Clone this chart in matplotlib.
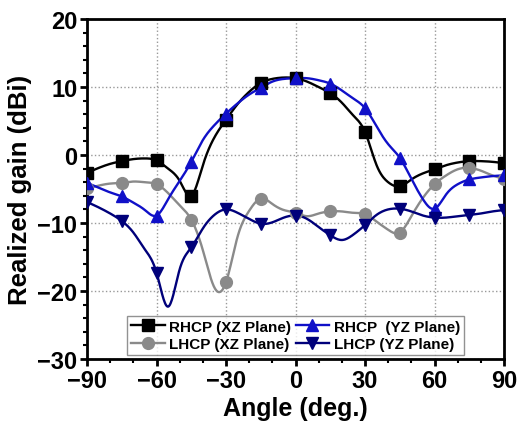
import numpy as np
import matplotlib.pyplot as plt
from matplotlib.ticker import MultipleLocator

# angles every 5 deg; markers sit on every 15 deg
angle = list(range(-90, 91, 5))
rhcp_xz = [-2.6, -1.9, -1.3, -0.9, -0.6, -0.5, -0.8, -2.0, -3.8, -6.0, -1.5, 2.6, 5.2,
           7.5, 9.3, 10.6, 11.2, 11.4, 11.3, 10.8, 10.0, 9.1, 7.7, 5.8, 3.4,
           -1.5, -4.0, -4.6, -3.6, -2.7, -2.1, -1.5, -1.1, -0.9, -0.9, -1.0, -1.2]
rhcp_yz = [-4.1, -4.8, -5.5, -6.1, -7.0, -8.1, -8.9, -6.5, -3.8, -1.0, 2.2, 4.4, 6.1,
           7.6, 8.9, 9.9, 10.8, 11.2, 11.3, 11.3, 11.0, 10.5, 9.5, 8.3, 6.9,
           4.2, 1.6, -0.4, -3.5, -6.5, -7.9, -5.8, -4.3, -3.6, -3.3, -3.1, -3.0]
lhcp_xz = [-4.9, -4.5, -4.2, -4.1, -3.9, -4.0, -4.3, -5.6, -7.4, -9.5, -14.0, -19.5, -18.7,
           -12.0, -8.2, -6.4, -7.2, -8.1, -8.5, -9.0, -8.6, -8.3, -8.3, -8.5, -8.7,
           -9.8, -11.0, -11.4, -9.0, -6.3, -4.3, -3.0, -2.1, -1.9, -2.3, -3.0, -3.5]
lhcp_yz = [-6.9, -7.7, -8.6, -9.7, -11.4, -13.9, -17.3, -22.3, -16.8, -13.6, -10.8, -8.8, -8.0,
           -8.5, -9.4, -10.1, -9.9, -9.2, -8.9, -9.4, -10.6, -11.8, -12.5, -11.7, -10.3,
           -8.8, -8.0, -7.9, -8.3, -8.9, -9.2, -9.2, -9.0, -8.8, -8.6, -8.3, -8.1]


def smooth(x, y, n=600):
    # natural cubic spline for drawing the line only
    x = np.asarray(x, float)
    y = np.asarray(y, float)
    k = len(x)
    h = np.diff(x)
    A = np.zeros((k, k))
    b = np.zeros(k)
    A[0, 0] = A[-1, -1] = 1
    for i in range(1, k - 1):
        A[i, i - 1] = h[i - 1]
        A[i, i] = 2 * (h[i - 1] + h[i])
        A[i, i + 1] = h[i]
        b[i] = 6 * ((y[i + 1] - y[i]) / h[i] - (y[i] - y[i - 1]) / h[i - 1])
    M = np.linalg.solve(A, b)
    xs = np.linspace(x[0], x[-1], n)
    j = np.clip(np.searchsorted(x, xs) - 1, 0, k - 2)
    t1 = x[j + 1] - xs
    t2 = xs - x[j]
    hj = h[j]
    ys = (M[j] * t1**3 + M[j + 1] * t2**3) / (6 * hj) \
        + (y[j] / hj - M[j] * hj / 6) * t1 + (y[j + 1] / hj - M[j + 1] * hj / 6) * t2
    return xs, ys


plt.rcParams['font.family'] = ['Liberation Sans', 'DejaVu Sans']
plt.rcParams['font.weight'] = 'bold'

fig = plt.figure(figsize=(5.18, 4.27), dpi=100)
ax = fig.add_axes([0.168, 0.157, 0.805, 0.796])

series = [
    (rhcp_xz, 'black', 's', 'RHCP (XZ Plane)'),
    (lhcp_xz, '#8a8a8a', 'o', 'LHCP (XZ Plane)'),
    (rhcp_yz, '#1010C8', '^', 'RHCP  (YZ Plane)'),
    (lhcp_yz, '#00007A', 'v', 'LHCP (YZ Plane)'),
]
handles = []
for vals, col, mk, lab in series:
    xs, ys = smooth(angle, vals)
    ax.plot(xs, ys, color=col, lw=1.7, zorder=3)
    ax.plot(angle[::3], vals[::3], ls='none', marker=mk, ms=8.5, color=col, zorder=4)
    handles.append(plt.Line2D([], [], color=col, lw=1.7, marker=mk, ms=8.5, label=lab))

ax.set_xlim(-90, 90)
ax.set_ylim(-30, 20)
ax.xaxis.set_major_locator(MultipleLocator(30))
ax.xaxis.set_minor_locator(MultipleLocator(10))
ax.yaxis.set_major_locator(MultipleLocator(10))
ax.yaxis.set_minor_locator(MultipleLocator(2))
ax.grid(True, which='major', ls=':', color='#999999', lw=1)
for s in ax.spines.values():
    s.set_linewidth(2)
ax.tick_params(which='major', direction='out', length=5, width=2, labelsize=17, pad=2)
ax.tick_params(which='minor', direction='out', length=3, width=1.5)

ax.set_xlabel('Angle (deg.)', fontsize=18, fontweight='bold', labelpad=3)
ax.set_ylabel('Realized gain (dBi)', fontsize=18.5, fontweight='bold', labelpad=4)

leg = ax.legend(handles=handles, ncol=2, loc='lower center', bbox_to_anchor=(0.5, -0.01),
                fontsize=11, frameon=True, fancybox=False, edgecolor='#777777',
                handlelength=2.2, handletextpad=0.3, columnspacing=0.3,
                borderpad=0.25, labelspacing=0.2)
leg.get_frame().set_linewidth(1)

fig.savefig('out.png', dpi=100)
